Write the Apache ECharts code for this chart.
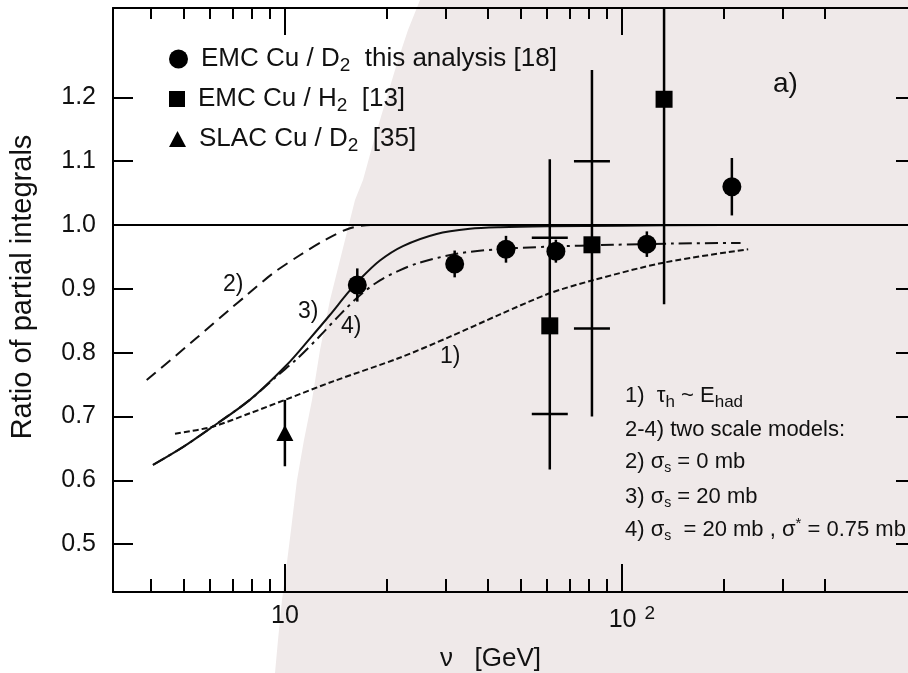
<!DOCTYPE html>
<html><head><meta charset="utf-8">
<script src="https://cdn.jsdelivr.net/npm/echarts@6/dist/echarts.min.js"></script>
<style>html,body{margin:0;padding:0;background:#fff}#c{width:908px;height:673px}</style>
</head><body><div id="c"></div>
<script>
// ---------- data ----------
const yTickValues = [0.5, 0.6, 0.7, 0.8, 0.9, 1.0, 1.1, 1.2];
const xMajorTicks = [10, 100];
const xMinorTicks = [4, 5, 6, 7, 8, 9, 20, 30, 40, 50, 60, 70, 80, 90, 200, 300, 400];
const refLine = [1.0];

// EMC Cu / D2 this analysis [18]
const circX = [16.4, 31.9, 45.3, 63.7, 118.6, 212];
const circY = [0.906, 0.939, 0.962, 0.959, 0.970, 1.060];
const circErr = [0.026, 0.021, 0.021, 0.018, 0.020, 0.045];

// EMC Cu / H2 [13]
const sqX = [61.1, 81.5, 133.4];
const sqY = [0.842, 0.969, 1.197];
const sqErrUp = [0.261, 0.274, 0.324];
const sqErrDn = [0.225, 0.269, 0.321];
const sqStatErr = [0.138, 0.131, null];

// SLAC Cu / D2 [35]
const triX = [10.0];
const triY = [0.674];
const triErr = [0.052];

// model curves
const c1X = [4.72, 6.1, 7.87, 10, 13.9, 21.9, 30.9, 43.5, 61.1, 81.5, 133, 237];
const c1Y = [0.673, 0.684, 0.705, 0.726, 0.755, 0.792, 0.825, 0.860, 0.893, 0.913, 0.941, 0.962];
const c2X = [3.89, 5.5, 6.87, 7.7, 9.2, 11.1, 13.3, 15.6, 18, 22];
const c2Y = [0.757, 0.824, 0.868, 0.890, 0.924, 0.953, 0.978, 0.995, 1.0, 1.0];
const c3X = [4.06, 4.98, 5.99, 7.87, 10.14, 11.86, 13.6, 15.28, 16.7, 19.1, 22.4, 28.2, 35.4, 43.5, 60, 100, 200];
const c3Y = [0.624, 0.652, 0.681, 0.726, 0.781, 0.822, 0.859, 0.892, 0.915, 0.944, 0.967, 0.986, 0.994, 0.9965, 0.998, 0.999, 1.0];
const c4X = [4.06, 4.98, 5.99, 7.87, 9.5, 10.85, 12.7, 14.6, 16.7, 19.1, 21.9, 25.1, 32.4, 42.6, 60, 94, 142, 225];
const c4Y = [0.624, 0.652, 0.681, 0.726, 0.764, 0.790, 0.826, 0.860, 0.890, 0.913, 0.929, 0.941, 0.955, 0.962, 0.966, 0.969, 0.971, 0.972];

const xRange = [3.09, 716];
const yRange = [0.425, 1.34];

// ---------- build ----------
const FONT = '"Liberation Sans", Arial, sans-serif';
const zip = (a, b) => a.map((v, i) => [v, b[i]]);
const chart = echarts.init(document.getElementById('c'), null, {renderer: 'canvas'});

const errData = [];
circX.forEach((x, i) => errData.push([x, circY[i], circY[i] - circErr[i], circY[i] + circErr[i], '-', '-']));
sqX.forEach((x, i) => errData.push([x, sqY[i], sqY[i] - sqErrDn[i], sqY[i] + sqErrUp[i],
  sqStatErr[i] == null ? '-' : sqY[i] - sqStatErr[i], sqStatErr[i] == null ? '-' : sqY[i] + sqStatErr[i]]));
triX.forEach((x, i) => errData.push([x, triY[i], triY[i] - triErr[i], triY[i] + triErr[i], '-', '-']));

function xAx(pos, ticks, len, showLine, showLabel) {
  return {
    type: 'log', position: pos, min: xRange[0], max: xRange[1], logBase: 10,
    axisLine: {show: showLine, lineStyle: {color: '#000', width: 2}},
    axisTick: {show: true, inside: true, length: len, customValues: ticks, lineStyle: {color: '#000', width: 2}},
    splitLine: {show: false}, minorTick: {show: false},
    axisLabel: showLabel ? {
      show: true, customValues: xMajorTicks, margin: 12, color: '#111', fontSize: 25, fontFamily: FONT,
      formatter: v => Math.round(v) === 10 ? '10' : '{pad| }10{sp| }{sup|2}',
      rich: {pad: {width: 20, fontSize: 25}, sp: {width: 8, fontSize: 25},
             sup: {fontSize: 19, fontFamily: FONT, color: '#111', padding: [0, 0, 14, 0]}}
    } : {show: false}
  };
}

const legendBase = {
  orient: 'vertical', padding: 0, itemWidth: 18, itemHeight: 18, left: 169,
  textStyle: {fontSize: 26, fontFamily: FONT, color: '#111',
    rich: {gap: {width: 8, fontSize: 26}, sub: {fontSize: 19, fontFamily: FONT, color: '#111', padding: [14, 0, 0, 0]}}},
  selectedMode: false
};

const lineBase = {type: 'line', smooth: 0.3, showSymbol: false, silent: true, z: 2};

const option = {
  backgroundColor: '#fff',
  animation: false,
  grid: {left: 113, right: -2, top: 8, bottom: 81, containLabel: false, outerBoundsMode: 'none'},
  xAxis: [
    Object.assign(xAx('bottom', xMajorTicks, 28, true, true), {
      name: 'ν   [GeV]', nameLocation: 'middle', nameGap: 54,
      nameTextStyle: {fontSize: 26, fontFamily: FONT, color: '#111', padding: [0, 42, 0, 0]}
    }),
    xAx('bottom', xMinorTicks, 13, false, false),
    xAx('top', xMajorTicks, 27, true, false),
    xAx('top', xMinorTicks, 11, false, false)
  ],
  yAxis: [
    {type: 'value', position: 'left', min: yRange[0], max: yRange[1],
     axisLine: {show: true, lineStyle: {color: '#000', width: 2}},
     axisTick: {show: true, inside: true, length: 20, customValues: yTickValues, lineStyle: {color: '#000', width: 2}},
     axisLabel: {show: true, customValues: yTickValues, margin: 17, fontSize: 25, fontFamily: FONT, color: '#111',
                 formatter: v => v.toFixed(1)},
     splitLine: {show: false},
     name: 'Ratio of partial integrals', nameLocation: 'middle', nameGap: 76, nameRotate: 90,
     nameTextStyle: {fontSize: 29, fontFamily: FONT, color: '#111', padding: [0, 0, 0, 26]}},
    {type: 'value', position: 'right', min: yRange[0], max: yRange[1],
     axisLine: {show: false},
     axisTick: {show: true, inside: true, length: 14, customValues: yTickValues, lineStyle: {color: '#000', width: 2}},
     axisLabel: {show: false}, splitLine: {show: false}}
  ],
  legend: [
    Object.assign({}, legendBase, {top: 46, icon: 'circle', itemWidth: 19, itemHeight: 19, data: ['circ'],
      formatter: () => '{gap| }EMC Cu / D{sub|2}  this analysis [18]'}),
    Object.assign({}, legendBase, {top: 86, icon: 'rect', itemWidth: 16, itemHeight: 16, data: ['sq'],
      formatter: () => '{gap| }EMC Cu / H{sub|2}  [13]'}),
    Object.assign({}, legendBase, {top: 126, icon: 'triangle', itemWidth: 17, itemHeight: 16, data: ['tri'],
      formatter: () => '{gap| }SLAC Cu / D{sub|2}  [35]'})
  ],
  graphic: [
    {type: 'polygon', z: -100, silent: true, shape: {points: [
      [420, 0], [408, 30], [398, 60], [386, 100], [374, 140], [363, 180], [355, 200], [345, 240],
      [330, 300], [320, 350], [312, 400], [304, 440], [297, 480], [291, 530], [286, 570],
      [282, 600], [278, 640], [275, 673], [910, 673], [910, 0]]},
     style: {fill: '#efe9e9'}},
    {type: 'text', silent: true, style: {text: 'a)', x: 773, y: 84, verticalAlign: 'middle', fontSize: 28, fontFamily: FONT, fill: '#111'}},
    {type: 'text', silent: true, style: {text: '2)', x: 223, y: 285, verticalAlign: 'middle', fontSize: 23, fontFamily: FONT, fill: '#111'}},
    {type: 'text', silent: true, style: {text: '3)', x: 298, y: 312, verticalAlign: 'middle', fontSize: 23, fontFamily: FONT, fill: '#111'}},
    {type: 'text', silent: true, style: {text: '4)', x: 341, y: 327, verticalAlign: 'middle', fontSize: 23, fontFamily: FONT, fill: '#111'}},
    {type: 'text', silent: true, style: {text: '1)', x: 440, y: 357, verticalAlign: 'middle', fontSize: 23, fontFamily: FONT, fill: '#111'}},
    {type: 'text', silent: true, style: {text: '1)  τ{sub|h} ~ E{sub|had}', x: 625, y: 396, verticalAlign: 'middle',
      fontSize: 22, fontFamily: FONT, fill: '#111',
      rich: {sub: {fontSize: 17, fontFamily: FONT, fill: '#111', padding: [12, 0, 0, 0]}}}},
    {type: 'text', silent: true, style: {text: '2-4) two scale models:', x: 625, y: 430, verticalAlign: 'middle',
      fontSize: 22, fontFamily: FONT, fill: '#111'}},
    {type: 'text', silent: true, style: {text: '2) σ{sub|s} = 0 mb', x: 625, y: 462, verticalAlign: 'middle',
      fontSize: 22, fontFamily: FONT, fill: '#111',
      rich: {sub: {fontSize: 14, fontFamily: FONT, fill: '#111', padding: [12, 0, 0, 0]}}}},
    {type: 'text', silent: true, style: {text: '3) σ{sub|s} = 20 mb', x: 625, y: 497, verticalAlign: 'middle',
      fontSize: 22, fontFamily: FONT, fill: '#111',
      rich: {sub: {fontSize: 14, fontFamily: FONT, fill: '#111', padding: [12, 0, 0, 0]}}}},
    {type: 'text', silent: true, style: {text: '4) σ{sub|s}  = 20 mb , σ{sup|*} = 0.75 mb', x: 625, y: 530, verticalAlign: 'middle',
      fontSize: 22, fontFamily: FONT, fill: '#111',
      rich: {sub: {fontSize: 14, fontFamily: FONT, fill: '#111', padding: [12, 0, 0, 0]},
             sup: {fontSize: 15, fontFamily: FONT, fill: '#111', padding: [0, 0, 12, 0]}}}}
  ],
  series: [
    Object.assign({}, lineBase, {name: 'c1', data: zip(c1X, c1Y),
     lineStyle: {color: '#111', width: 2, type: [6, 3]}}),
    Object.assign({}, lineBase, {name: 'c2', data: zip(c2X, c2Y),
     lineStyle: {color: '#111', width: 2, type: [12, 7]}}),
    Object.assign({}, lineBase, {name: 'c3', data: zip(c3X, c3Y),
     lineStyle: {color: '#111', width: 2, type: 'solid'},
     markLine: {silent: true, symbol: 'none', label: {show: false}, animation: false,
       lineStyle: {color: '#000', width: 2, type: 'solid'}, data: refLine.map(v => ({yAxis: v}))}}),
    Object.assign({}, lineBase, {name: 'c4', data: zip(c4X, c4Y),
     lineStyle: {color: '#111', width: 2, type: [13, 5, 3, 5]}}),
    {type: 'custom', name: 'err', data: errData, clip: true, silent: true, z: 3,
     encode: {x: 0, y: 1},
     renderItem: function (params, api) {
       const x = api.value(0);
       const top = api.coord([x, api.value(3)]);
       const bot = api.coord([x, api.value(2)]);
       const ch = [{type: 'line', shape: {x1: top[0], y1: top[1], x2: bot[0], y2: bot[1]},
                    style: {stroke: '#000', lineWidth: 2.5}}];
       const sl = api.value(4), sh = api.value(5);
       if (!isNaN(sl) && !isNaN(sh)) {
         const a = api.coord([x, sl]), b = api.coord([x, sh]);
         ch.push({type: 'line', shape: {x1: a[0] - 18, y1: a[1], x2: a[0] + 18, y2: a[1]}, style: {stroke: '#000', lineWidth: 2.5}});
         ch.push({type: 'line', shape: {x1: b[0] - 18, y1: b[1], x2: b[0] + 18, y2: b[1]}, style: {stroke: '#000', lineWidth: 2.5}});
       }
       return {type: 'group', children: ch};
     }},
    {type: 'scatter', name: 'circ', data: zip(circX, circY), symbol: 'circle', symbolSize: 19, z: 4,
     itemStyle: {color: '#000', opacity: 1}},
    {type: 'scatter', name: 'sq', data: zip(sqX, sqY), symbol: 'rect', symbolSize: 17, z: 4,
     itemStyle: {color: '#000', opacity: 1}},
    {type: 'scatter', name: 'tri', data: zip(triX, triY), symbol: 'triangle', symbolSize: [17, 16], z: 4,
     itemStyle: {color: '#000', opacity: 1}}
  ]
};
chart.setOption(option);
</script>
</body></html>
